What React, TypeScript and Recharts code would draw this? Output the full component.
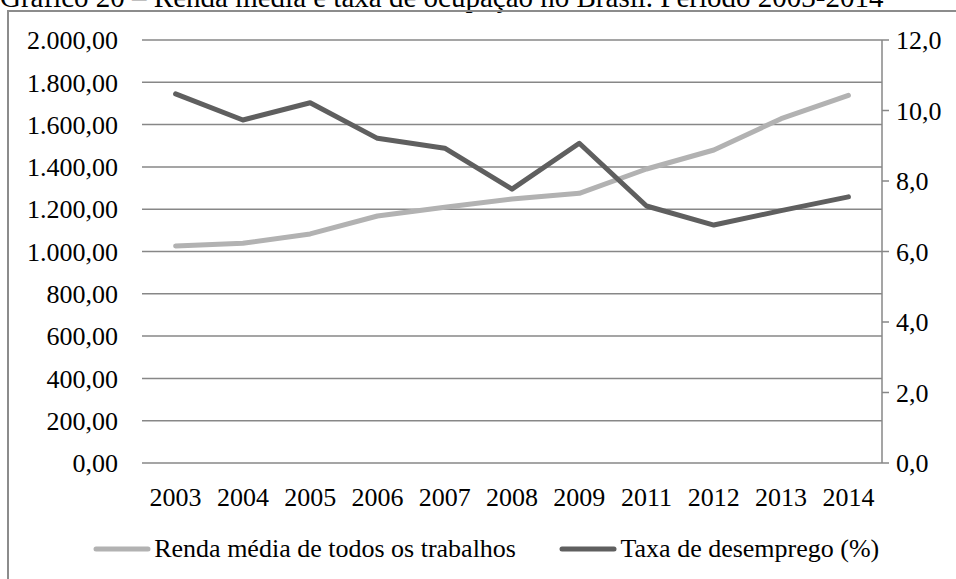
import React from "react";
import {
  LineChart,
  Line,
  XAxis,
  YAxis,
  CartesianGrid,
  Legend,
} from "recharts";

const years = ["2003", "2004", "2005", "2006", "2007", "2008", "2009", "2011", "2012", "2013", "2014"];
const rendaMedia = [1026, 1039, 1083, 1168, 1209, 1248, 1275, 1390, 1480, 1628, 1738];
const taxaDesemprego = [10.47, 9.73, 10.22, 9.21, 8.93, 7.77, 9.07, 7.29, 6.75, 7.16, 7.55];
const leftTicks = [0, 200, 400, 600, 800, 1000, 1200, 1400, 1600, 1800, 2000];
const rightTicks = [0, 2, 4, 6, 8, 10, 12];

const RENDA = "Renda média de todos os trabalhos";
const TAXA = "Taxa de desemprego (%)";
const TITLE = "Gráfico 20 – Renda média e taxa de ocupação no Brasil. Período 2003-2014";

const data = years.map((y, i) => ({
  year: y,
  renda: rendaMedia[i],
  taxa: taxaDesemprego[i],
}));

const FONT = '"Liberation Serif", "Times New Roman", serif';
const GRID = "#878787";
const LIGHT = "#b2b2b2";
const DARK = "#5f5f5f";
const FS = 26;

// pt-BR style numbers: 2.000,00 / 12,0
function fmt(v: number, dec: number) {
  const [int, frac] = v.toFixed(dec).split(".");
  const withDots = int.replace(/\B(?=(\d{3})+(?!\d))/g, ".");
  return frac ? `${withDots},${frac}` : withDots;
}

function LegendContent() {
  const items = [
    { name: RENDA, color: LIGHT },
    { name: TAXA, color: DARK },
  ];
  return (
    <div
      style={{
        height: 60,
        display: "flex",
        alignItems: "center",
        justifyContent: "center",
        gap: 43.5,
        paddingLeft: 18.5,
        fontFamily: FONT,
        fontSize: FS,
        color: "#000",
      }}
    >
      {items.map((it) => (
        <div key={it.name} style={{ display: "flex", alignItems: "center" }}>
          <svg width={58} height={10} style={{ marginRight: 3 }}>
            <line x1={3} y1={5} x2={55} y2={5} stroke={it.color} strokeWidth={5} strokeLinecap="round" />
          </svg>
          <span style={{ whiteSpace: "nowrap", fontFamily: FONT }}>{it.name}</span>
        </div>
      ))}
    </div>
  );
}

export default function App() {
  const tick = { fill: "#000", fontSize: FS, fontFamily: FONT };
  return (
    <div
      style={{
        position: "absolute",
        left: 0,
        top: 0,
        width: 956,
        height: 579,
        overflow: "hidden",
        background: "#fff",
        fontFamily: FONT,
      }}
    >
      <svg width={956} height={20} style={{ position: "absolute", left: 0, top: 0 }}>
        <text x={0} y={7} fontFamily={FONT} fontSize={29} fill="#000">
          {TITLE}
        </text>
      </svg>
      <div
        style={{
          position: "absolute",
          left: 7,
          top: 10,
          width: 1000,
          height: 700,
          borderLeft: "2px solid #8c8c8c",
          borderTop: "2px solid #8c8c8c",
        }}
      />
      <div style={{ position: "absolute", left: 0, top: 0 }}>
        <LineChart width={956} height={579} data={data} margin={{ top: 40, right: 14, bottom: 0, left: 12 }}>
          <CartesianGrid yAxisId="left" vertical={false} stroke={GRID} strokeWidth={1.5} />
          <XAxis
            dataKey="year"
            axisLine={false}
            tickLine={false}
            tickSize={0}
            tickMargin={25}
            height={56}
            interval={0}
            padding={{ left: 33.6, right: 33.6 }}
            tick={tick}
          />
          <YAxis
            yAxisId="left"
            domain={[0, 2000]}
            ticks={leftTicks}
            width={130}
            axisLine={false}
            tickLine={false}
            tickSize={0}
            tickMargin={24}
            tick={tick}
            tickFormatter={(v: number) => fmt(v, 2)}
            interval={0}
          />
          <YAxis
            yAxisId="right"
            orientation="right"
            domain={[0, 12]}
            ticks={rightTicks}
            width={60}
            axisLine={{ stroke: GRID, strokeWidth: 1.5 }}
            tickLine={{ stroke: GRID, strokeWidth: 1.5 }}
            tickSize={7}
            tickMargin={7}
            tick={tick}
            tickFormatter={(v: number) => fmt(v, 1)}
            interval={0}
          />
          <Line
            yAxisId="left"
            type="linear"
            dataKey="renda"
            name={RENDA}
            stroke={LIGHT}
            strokeWidth={5}
            dot={false}
            activeDot={false}
            strokeLinecap="round"
            strokeLinejoin="round"
            isAnimationActive={false}
          />
          <Line
            yAxisId="right"
            type="linear"
            dataKey="taxa"
            name={TAXA}
            stroke={DARK}
            strokeWidth={5}
            dot={false}
            activeDot={false}
            strokeLinecap="round"
            strokeLinejoin="round"
            isAnimationActive={false}
          />
          <Legend verticalAlign="bottom" height={60} content={() => <LegendContent />} />
        </LineChart>
      </div>
    </div>
  );
}
